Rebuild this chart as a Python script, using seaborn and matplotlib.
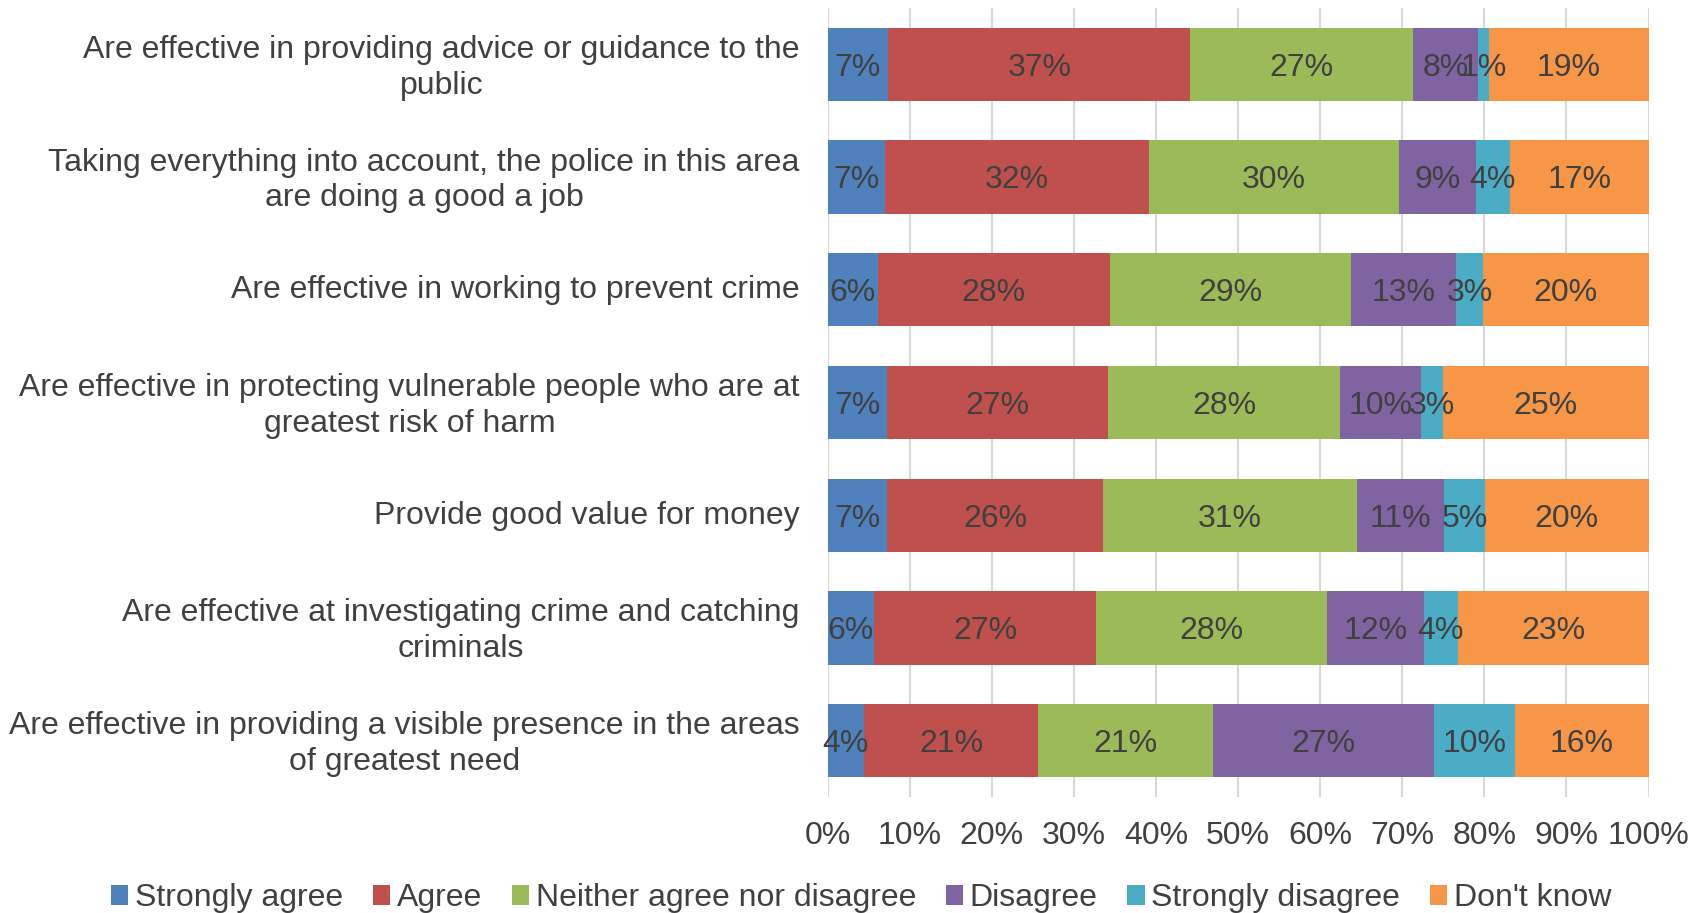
import numpy as np
import pandas as pd
import matplotlib
matplotlib.use("Agg")
import matplotlib.pyplot as plt
import matplotlib.transforms as mtransforms
from matplotlib.patches import Patch
import seaborn as sns

categories = [
    "Are effective in providing advice or guidance to the\npublic",
    "Taking everything into account, the police in this area\nare doing a good a job",
    "Are effective in working to prevent crime",
    "Are effective in protecting vulnerable people who are at\ngreatest risk of harm",
    "Provide good value for money",
    "Are effective at investigating crime and catching\ncriminals",
    "Are effective in providing a visible presence in the areas\nof greatest need",
]
series_names = ["Strongly agree", "Agree", "Neither agree nor disagree",
                "Disagree", "Strongly disagree", "Don't know"]
strongly_agree = [7.4, 7.0, 6.1, 7.2, 7.3, 5.7, 4.4]
agree = [36.8, 32.2, 28.3, 27.0, 26.2, 27.0, 21.3]
neither = [27.1, 30.4, 29.4, 28.2, 31.0, 28.2, 21.3]
disagree = [7.9, 9.4, 12.8, 9.9, 10.6, 11.7, 26.9]
strongly_disagree = [1.4, 4.1, 3.2, 2.7, 5.0, 4.2, 9.8]
dont_know = [19.4, 16.9, 20.2, 25.0, 19.9, 23.2, 16.3]
x_ticks = [0, 10, 20, 30, 40, 50, 60, 70, 80, 90, 100]

colors = ["#4F81BD", "#C0504D", "#9BBB59", "#8064A2", "#4BACC6", "#F79646"]
text_color = "#404040"

sns.set_theme(style="white")
plt.rcParams["font.family"] = ["Liberation Sans", "DejaVu Sans"]

df = pd.DataFrame({
    "category": categories,
    series_names[0]: strongly_agree,
    series_names[1]: agree,
    series_names[2]: neither,
    series_names[3]: disagree,
    series_names[4]: strongly_disagree,
    series_names[5]: dont_know,
})
cum = df[series_names].cumsum(axis=1)

fig = plt.figure(figsize=(17.05, 9.13), dpi=100)
ax = fig.add_axes([827.5 / 1705, 1 - 797 / 913, (1648.5 - 827.5) / 1705, (797 - 8) / 913])

# draw cumulative bars from largest to smallest so they stack visually
for name, col in reversed(list(zip(series_names, colors))):
    sns.barplot(data=cum.assign(category=categories), x=name, y="category",
                orient="h", color=col, width=0.65, saturation=1,
                linewidth=0, ax=ax, zorder=3)

# data labels
fs = 23
for i, cat in enumerate(categories):
    left = 0.0
    for name in series_names:
        v = df.loc[i, name]
        ax.text(left + v / 2, i + 0.03, f"{int(round(v))}%", ha="center", va="center",
                fontsize=fs, color=text_color, zorder=5)
        left += v

ax.set_xlim(0, 100)
ax.set_ylim(6.5, -0.5)
ax.set_xticks(x_ticks)
ax.set_xticklabels([f"{t}%" for t in x_ticks], fontsize=fs, color=text_color)
ax.set_yticks(range(len(categories)))
ax.set_yticklabels(categories, fontsize=fs, color=text_color,
                   multialignment="center", linespacing=1.25)
ax.tick_params(axis="x", length=0, pad=17)
ax.tick_params(axis="y", length=0, pad=20)
offset = mtransforms.ScaledTranslation(0, 3 / 100, fig.dpi_scale_trans)
for lab in ax.get_yticklabels():
    lab.set_transform(lab.get_transform() + offset)
ax.set_xlabel("")
ax.set_ylabel("")
ax.grid(axis="x", color="#D9D9D9", linewidth=1.5, zorder=0)
ax.grid(axis="y", visible=False)
ax.set_axisbelow(True)
for s in ax.spines.values():
    s.set_visible(False)

handles = [Patch(facecolor=c, edgecolor="none") for c in colors]
fig.legend(handles, series_names, loc="center", bbox_to_anchor=(0.505, 0.016),
           ncol=6, frameon=False, fontsize=fs, handlelength=0.55, handleheight=0.55,
           handletextpad=0.2, columnspacing=0.93, labelcolor=text_color,
           borderaxespad=0)

fig.savefig("out.png", dpi=100)
